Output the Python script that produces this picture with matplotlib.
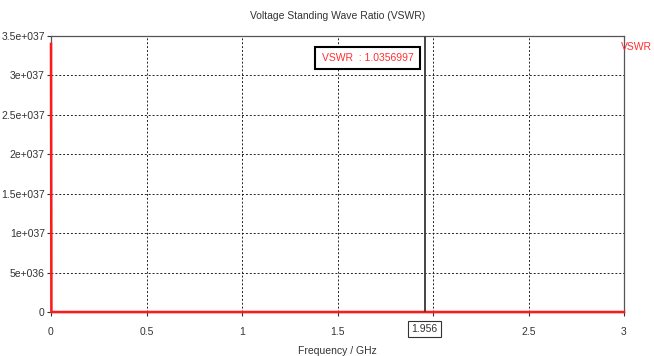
import matplotlib
matplotlib.use("Agg")
import matplotlib.pyplot as plt

# Frequency sweep (GHz) and VSWR
freq_ghz = [0.0, 0.002, 0.25, 0.5, 1.0, 1.5, 1.956, 2.5, 3.0]
vswr = [3.4e37, 2.1, 1.45, 1.3, 1.15, 1.08, 1.0356997, 1.06, 1.1]

marker_freq = 1.956
marker_value = 1.0356997

x_ticks = [0, 0.5, 1, 1.5, 2, 2.5, 3]
x_tick_labels = ["0", "0.5", "1", "1.5", "", "2.5", "3"]
y_ticks = [0, 5e36, 1e37, 1.5e37, 2e37, 2.5e37, 3e37, 3.5e37]
y_tick_labels = ["0", "5e+036", "1e+037", "1.5e+037", "2e+037", "2.5e+037", "3e+037", "3.5e+037"]

plt.rcParams["font.family"] = ["Liberation Sans", "DejaVu Sans"]
fs = 7.5
txt = "#333333"

fig = plt.figure(figsize=(6.54, 3.56), dpi=100)
ax = fig.add_axes([51 / 654, 44 / 356, (624 - 51) / 654, (312 - 36) / 356])

ax.plot(freq_ghz, vswr, color="#ff1a1a", lw=1.8, zorder=3, clip_on=False)

ax.set_xlim(0, 3)
ax.set_ylim(0, 3.5e37)
ax.set_xticks(x_ticks)
ax.set_xticklabels(x_tick_labels)
ax.set_yticks(y_ticks)
ax.set_yticklabels(y_tick_labels)
ax.tick_params(axis="both", labelsize=fs, length=3, width=0.8, color=txt,
               labelcolor=txt, pad=1.5)
ax.tick_params(axis="x", pad=8)

ax.grid(True, color="#222222", linestyle=(0, (2, 2)), linewidth=0.7)
for side in ["top", "right", "left", "bottom"]:
    ax.spines[side].set_color("#555555")
    ax.spines[side].set_linewidth(0.9)

ax.set_title("Voltage Standing Wave Ratio (VSWR)", fontsize=fs, color=txt, pad=12)
ax.set_xlabel("Frequency / GHz", fontsize=fs, color=txt, labelpad=6)

# Marker line with readout
ax.axvline(marker_freq, color="#444444", lw=1.4, zorder=4)
ax.annotate(f"VSWR  : {marker_value}", xy=(marker_freq, 3.22e37),
            xytext=(-8, 0), textcoords="offset points", ha="right", va="center",
            fontsize=fs, color="#ff3030",
            bbox=dict(boxstyle="square,pad=0.6", fc="white", ec="black", lw=1.5))
ax.annotate(f"{marker_freq}", xy=(marker_freq, 0), xytext=(0, -12.5),
            textcoords="offset points", ha="center", va="center",
            fontsize=fs, color=txt, annotation_clip=False,
            bbox=dict(boxstyle="square,pad=0.3", fc="white", ec="#333333", lw=0.8))

# Legend entry at the right
fig.text(652 / 654, 1 - 47 / 356, "VSWR", color="#ff3030", fontsize=fs,
         ha="right", va="center")

fig.savefig("out.png", dpi=100, facecolor="white")
